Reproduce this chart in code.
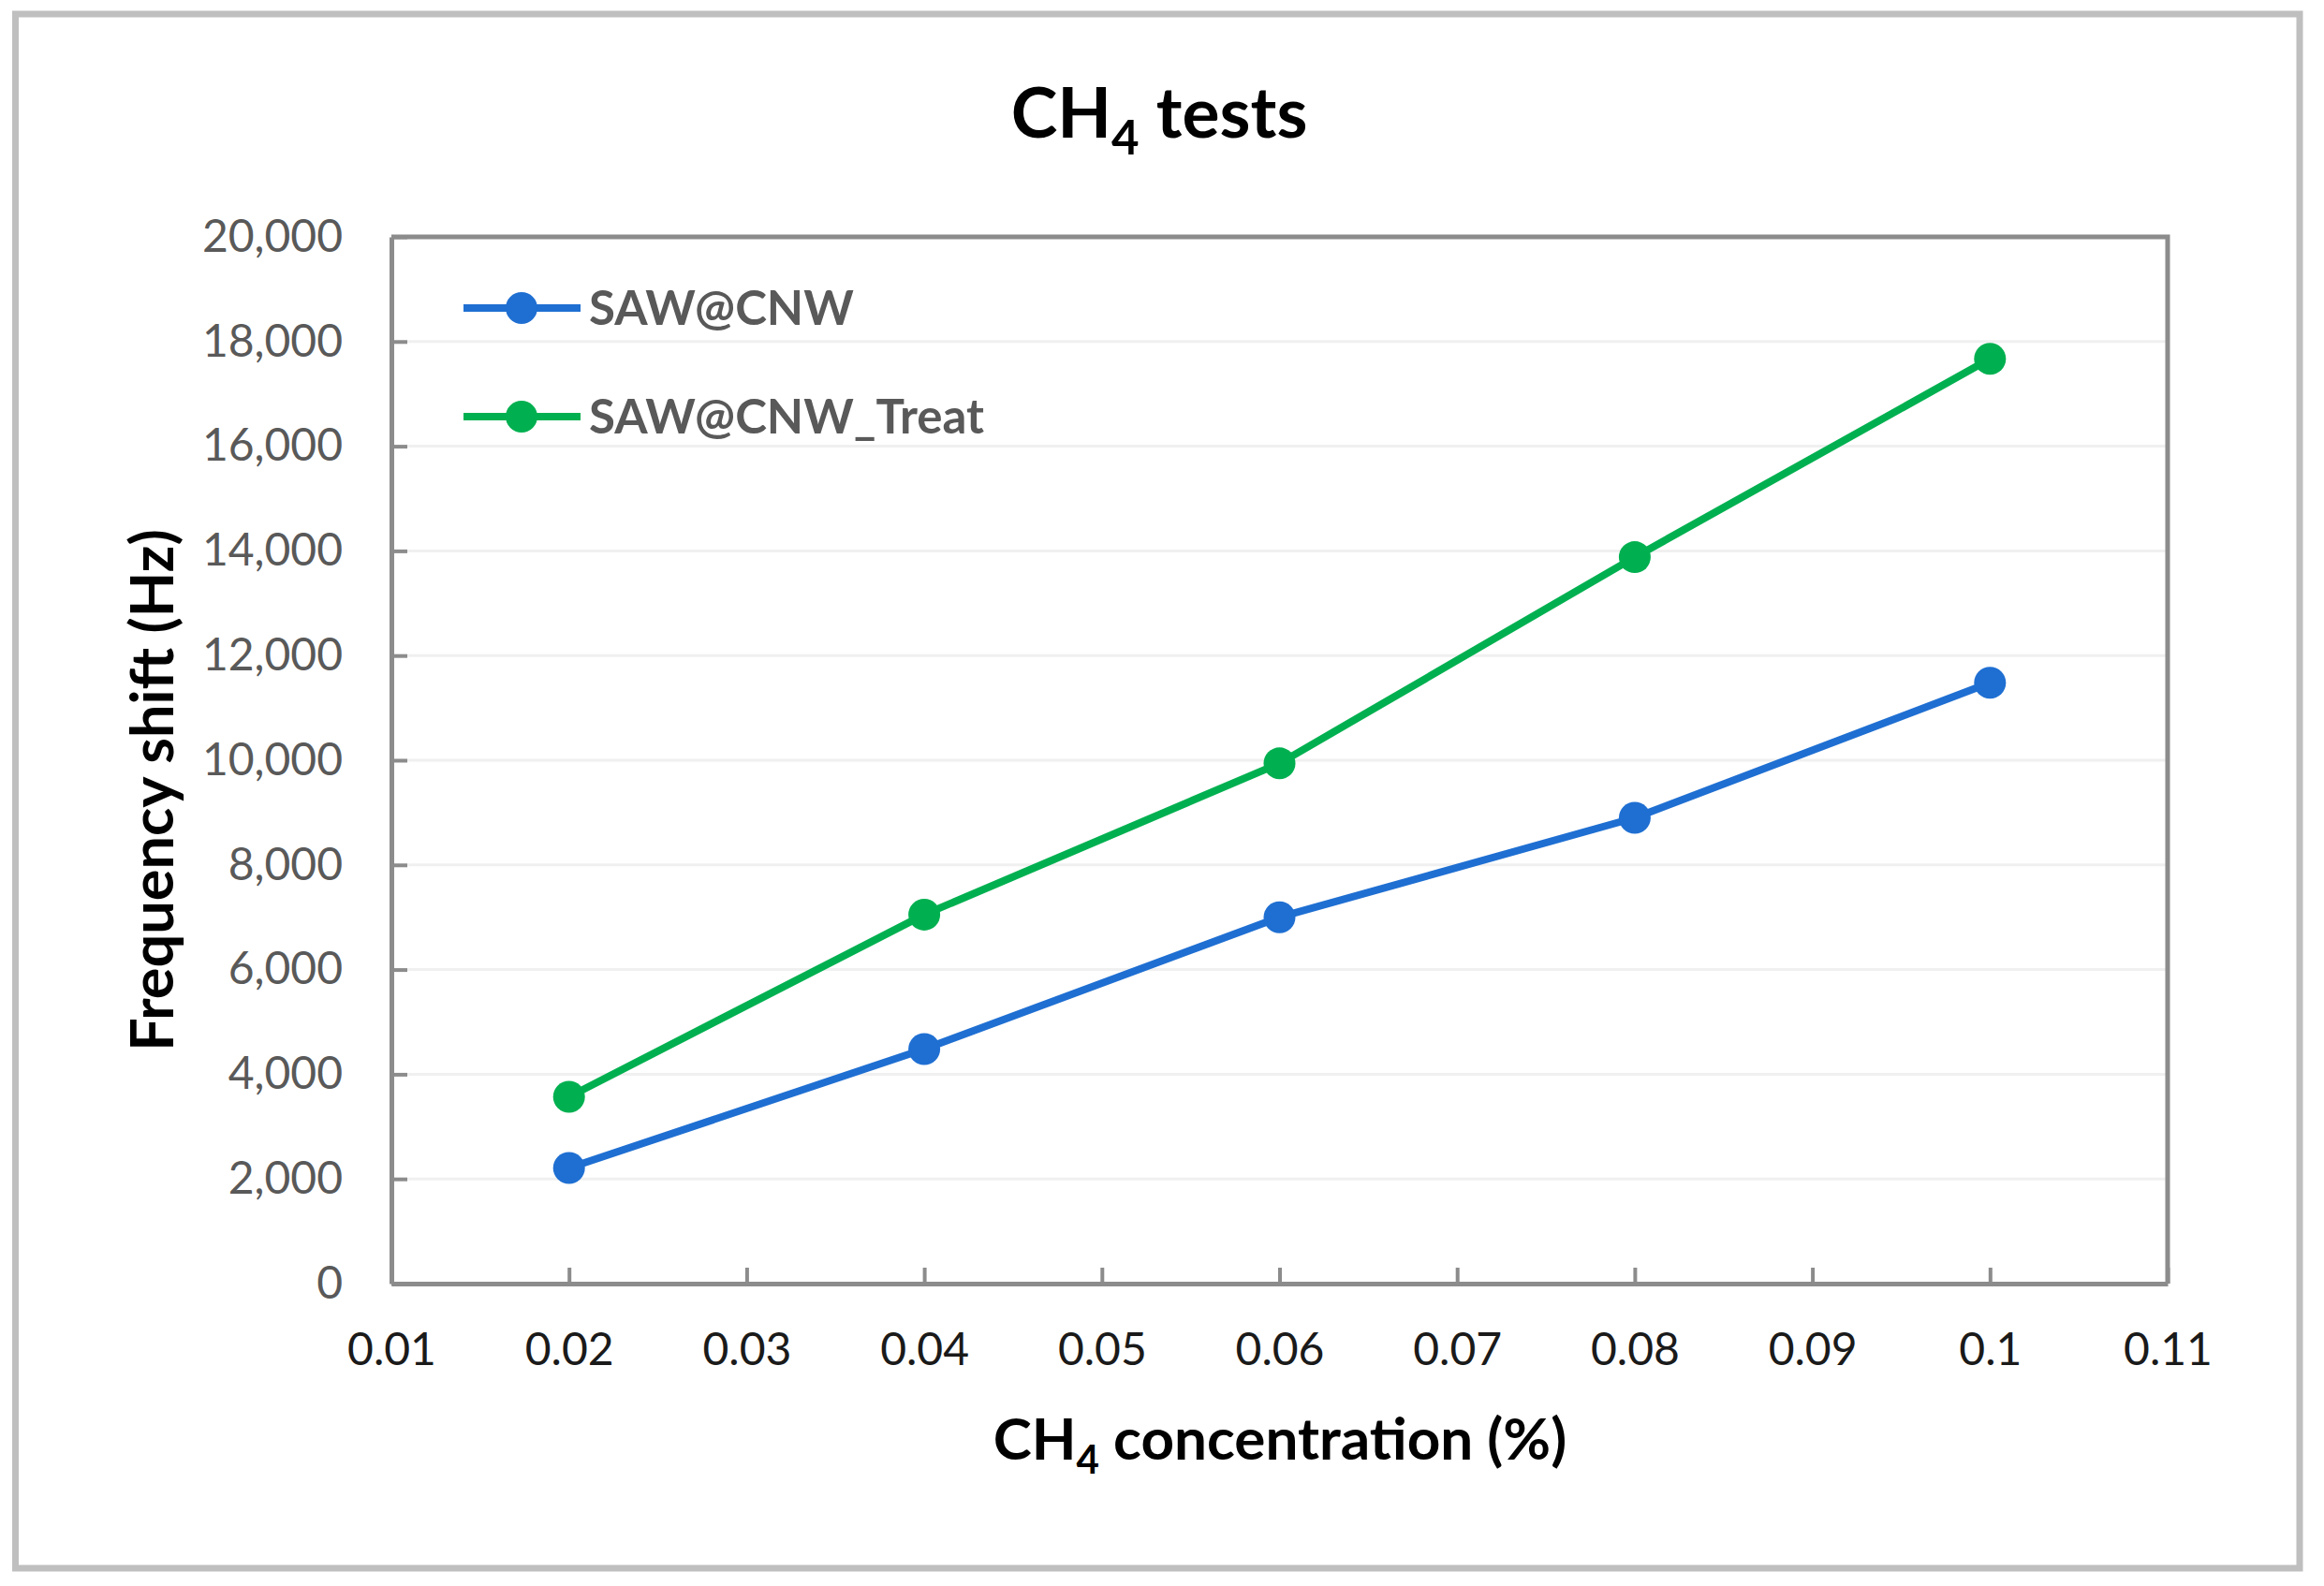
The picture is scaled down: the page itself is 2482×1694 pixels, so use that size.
<!DOCTYPE html>
<html>
<head>
<meta charset="utf-8">
<script src="https://d3js.org/d3.v7.min.js"></script>
<style>
  body { margin: 0; background: #fff; }
</style>
</head>
<body>
<div id="chart"></div>
<script>
// chart data
var concentrations = [0.02, 0.04, 0.06, 0.08, 0.1];
var sawCnw = [2210, 4480, 7000, 8900, 11480];
var sawCnwTreat = [3570, 7050, 9940, 13880, 17670];
var seriesNames = ["SAW@CNW", "SAW@CNW_Treat"];
var xTickValues = [0.01, 0.02, 0.03, 0.04, 0.05, 0.06, 0.07, 0.08, 0.09, 0.1, 0.11];
var yTickValues = [0, 2000, 4000, 6000, 8000, 10000, 12000, 14000, 16000, 18000, 20000];

// svg and chart parameters
var svgWidth = 2482;
var svgHeight = 1694;

var margin = {
  top: 253,
  right: 167,
  bottom: 323,
  left: 418
};

var width = svgWidth - margin.left - margin.right;
var height = svgHeight - margin.top - margin.bottom;

var blue = "#1f6fd2";
var green = "#00b050";
var axisGray = "#8c8c8c";
var font = "Lato, 'Open Sans', sans-serif";

var $svg = d3
  .select("#chart")
  .append("svg")
  .attr("width", svgWidth)
  .attr("height", svgHeight)
  .style("font-family", font);

// outer frame
$svg
  .append("rect")
  .attr("x", 16.5)
  .attr("y", 15)
  .attr("width", 2456 - 16.5)
  .attr("height", 1675 - 15)
  .attr("fill", "#fff")
  .attr("stroke", "#bfbfbf")
  .attr("stroke-width", 7);

var chartGroup = $svg
  .append("g")
  .attr("transform", `translate(${margin.left}, ${margin.top})`);

// scales
var xScale = d3
  .scaleLinear()
  .domain([0.01, 0.11])
  .range([0, width]);

var yScale = d3
  .scaleLinear()
  .domain([0, 20000])
  .range([height, 0]);

// gridlines
chartGroup
  .append("g")
  .selectAll("line")
  .data(yTickValues.slice(1))
  .enter()
  .append("line")
  .attr("x1", 0)
  .attr("x2", width)
  .attr("y1", d => yScale(d))
  .attr("y2", d => yScale(d))
  .attr("stroke", "#f0f0f0")
  .attr("stroke-width", 3);

// plot border (top and right)
chartGroup
  .append("path")
  .attr("d", `M0,0H${width}V${height}`)
  .attr("fill", "none")
  .attr("stroke", axisGray)
  .attr("stroke-width", 5);

// axes
var xAxis = d3
  .axisBottom(xScale)
  .tickValues(xTickValues)
  .tickFormat(d3.format("~g"))
  .tickSizeInner(-17)
  .tickSizeOuter(0)
  .tickPadding(53);

var yAxis = d3
  .axisLeft(yScale)
  .tickValues(yTickValues)
  .tickFormat(d3.format(","))
  .tickSizeInner(-17)
  .tickSizeOuter(0)
  .tickPadding(52);

var xAxisG = chartGroup
  .append("g")
  .attr("transform", `translate(0, ${height})`)
  .call(xAxis);

var yAxisG = chartGroup
  .append("g")
  .call(yAxis);

[xAxisG, yAxisG].forEach(function(g) {
  g.select(".domain").attr("stroke", axisGray).attr("stroke-width", 5);
  g.selectAll(".tick line").attr("stroke", axisGray).attr("stroke-width", 4);
  g.selectAll(".tick text")
    .attr("font-family", font)
    .attr("font-size", "48px");
});
xAxisG.selectAll(".tick text").attr("fill", "#1a1a1a");
yAxisG.selectAll(".tick text").attr("fill", "#595959");

// lines and markers
var series = [
  { name: seriesNames[0], values: sawCnw, color: blue },
  { name: seriesNames[1], values: sawCnwTreat, color: green }
];

var line = d3
  .line()
  .x((d, i) => xScale(concentrations[i]))
  .y(d => yScale(d));

series.forEach(function(s) {
  chartGroup
    .append("path")
    .attr("d", line(s.values))
    .attr("fill", "none")
    .attr("stroke", s.color)
    .attr("stroke-width", 8)
    .attr("stroke-linejoin", "round");

  chartGroup
    .append("g")
    .selectAll("circle")
    .data(s.values)
    .enter()
    .append("circle")
    .attr("cx", (d, i) => xScale(concentrations[i]))
    .attr("cy", d => yScale(d))
    .attr("r", 17)
    .attr("fill", s.color);
});

// legend
var legend = $svg
  .append("g")
  .selectAll("g")
  .data(series)
  .enter()
  .append("g")
  .attr("transform", (d, i) => `translate(495, ${329 + i * 116})`);

legend
  .append("line")
  .attr("x1", 0)
  .attr("x2", 125)
  .attr("stroke", d => d.color)
  .attr("stroke-width", 8);

legend
  .append("circle")
  .attr("cx", 62)
  .attr("r", 17)
  .attr("fill", d => d.color);

legend
  .append("text")
  .attr("x", 134)
  .attr("dy", "0.36em")
  .attr("font-size", "51px")
  .attr("font-weight", "bold")
  .attr("fill", "#595959")
  .text(d => d.name);

// text with subscript 4 helper
function ch4Text(sel, rest, size) {
  sel.append("tspan").text("CH");
  sel.append("tspan")
    .attr("font-size", (size * 0.68) + "px")
    .attr("dy", size * 0.24)
    .text("4");
  sel.append("tspan")
    .attr("dy", -size * 0.24)
    .text(rest);
}

// title
var title = $svg
  .append("text")
  .attr("x", 1238)
  .attr("y", 147)
  .attr("text-anchor", "middle")
  .attr("font-size", "75px")
  .attr("font-weight", "bold")
  .attr("fill", "#000");
ch4Text(title, " tests", 75);

// x axis title
var xTitle = $svg
  .append("text")
  .attr("x", 1367)
  .attr("y", 1559)
  .attr("text-anchor", "middle")
  .attr("font-size", "62px")
  .attr("font-weight", "bold")
  .attr("fill", "#000");
ch4Text(xTitle, " concentration (%)", 62);

// y axis title
$svg
  .append("text")
  .attr("transform", "translate(185, 844) rotate(-90)")
  .attr("text-anchor", "middle")
  .attr("font-size", "63px")
  .attr("font-weight", "bold")
  .attr("fill", "#000")
  .text("Frequency shift (Hz)");
</script>
</body>
</html>
